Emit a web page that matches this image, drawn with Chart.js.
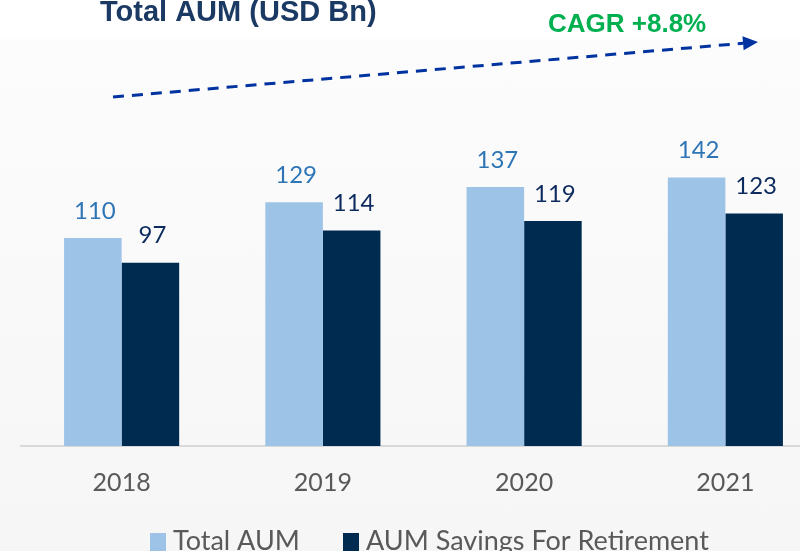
<!DOCTYPE html>
<html>
<head>
<meta charset="utf-8">
<script src="https://cdn.jsdelivr.net/npm/chart.js@4/dist/chart.umd.min.js"></script>
<style>
    html, body { margin: 0; padding: 0; }
    body {
        width: 800px; height: 551px; overflow: hidden;
        background: linear-gradient(to bottom, #ffffff 0px, #ffffff 38px, #fcfcfc 40px, #f6f6f6 551px);
    }
    #wrap { position: relative; width: 800px; height: 551px; overflow: hidden; }
</style>
</head>
<body>
<div id="wrap"><canvas id="aum" width="826" height="551"></canvas></div>
<script>
// data
const years = ['2018', '2019', '2020', '2021'];
const totalAum = [110, 129, 137, 142];
const savingsRetirement = [97, 114, 119, 123];
const seriesNames = ['Total AUM', 'AUM Savings For Retirement'];
const chartTitle = 'Total AUM (USD Bn)';
const cagrText = 'CAGR +8.8%';

const lightBlue = '#9dc3e6', navy = '#002b50';
const labelColors = ['#2e75b6', '#0d2b5e'];

// value labels above the bars
const valueLabels = {
    id: 'valueLabels',
    afterDatasetsDraw(chart) {
        const ctx = chart.ctx;
        ctx.save();
        ctx.font = '24px Lato';
        ctx.textAlign = 'center';
        ctx.textBaseline = 'middle';
        chart.data.datasets.forEach(function (ds, i) {
            chart.getDatasetMeta(i).data.forEach(function (bar, j) {
                ctx.fillStyle = labelColors[i];
                ctx.fillText(ds.data[j], bar.x + 2, bar.y - 27);
            });
        });
        ctx.restore();
    }
};

// title, cagr text, dashed arrow, legend
const decorations = {
    id: 'decorations',
    afterDraw(chart) {
        const ctx = chart.ctx;
        ctx.save();
        ctx.textBaseline = 'middle';
        ctx.textAlign = 'left';
        ctx.fillStyle = '#1b3a63';
        ctx.font = 'bold 29px "Liberation Sans"';
        ctx.fillText(chartTitle, 100, 13);

        ctx.fillStyle = '#00b050';
        ctx.font = 'bold 26px "Liberation Sans"';
        ctx.fillText(cagrText, 548, 25);

        // arrow
        const x1 = 113, y1 = 97, tx = 758, ty = 42;
        const len = Math.hypot(tx - x1, ty - y1);
        const dx = (tx - x1) / len, dy = (ty - y1) / len;
        const bx = tx - 15 * dx, by = ty - 15 * dy;
        ctx.strokeStyle = '#0033a0';
        ctx.lineWidth = 3;
        ctx.setLineDash([11, 8]);
        ctx.beginPath();
        ctx.moveTo(x1, y1);
        ctx.lineTo(bx, by);
        ctx.stroke();
        ctx.setLineDash([]);
        ctx.fillStyle = '#0033a0';
        ctx.beginPath();
        ctx.moveTo(tx, ty);
        ctx.lineTo(bx - 7 * dy, by + 7 * dx);
        ctx.lineTo(bx + 7 * dy, by - 7 * dx);
        ctx.closePath();
        ctx.fill();

        // legend
        const legendX = [150, 343];
        ctx.font = '27px Lato';
        ctx.textBaseline = 'alphabetic';
        chart.data.datasets.forEach(function (ds, i) {
            ctx.fillStyle = ds.backgroundColor;
            ctx.fillRect(legendX[i], 533, 16, 18);
            ctx.fillStyle = '#595959';
            ctx.fillText(ds.label, legendX[i] + 23, 550);
        });
        ctx.restore();
    }
};

new Chart(document.getElementById('aum'), {
    type: 'bar',
    data: {
        labels: years,
        datasets: [
            { label: seriesNames[0], data: totalAum, backgroundColor: lightBlue },
            { label: seriesNames[1], data: savingsRetirement, backgroundColor: navy }
        ]
    },
    options: {
        responsive: false,
        animation: false,
        layout: { padding: { left: 21, right: 0, top: 68, bottom: 0 } },
        datasets: { bar: { categoryPercentage: 0.572, barPercentage: 1.0 } },
        plugins: {
            legend: { display: false },
            title: { display: false },
            tooltip: { enabled: false }
        },
        scales: {
            x: {
                grid: { display: false, drawTicks: false },
                border: { display: true, color: '#d9d9d9', width: 2 },
                ticks: { color: '#595959', font: { family: 'Lato', size: 25 }, padding: 22 },
                afterFit(scale) { scale.height = 105; }
            },
            y: {
                display: false,
                min: 0,
                max: 200
            }
        }
    },
    plugins: [valueLabels, decorations]
});
</script>
</body>
</html>
